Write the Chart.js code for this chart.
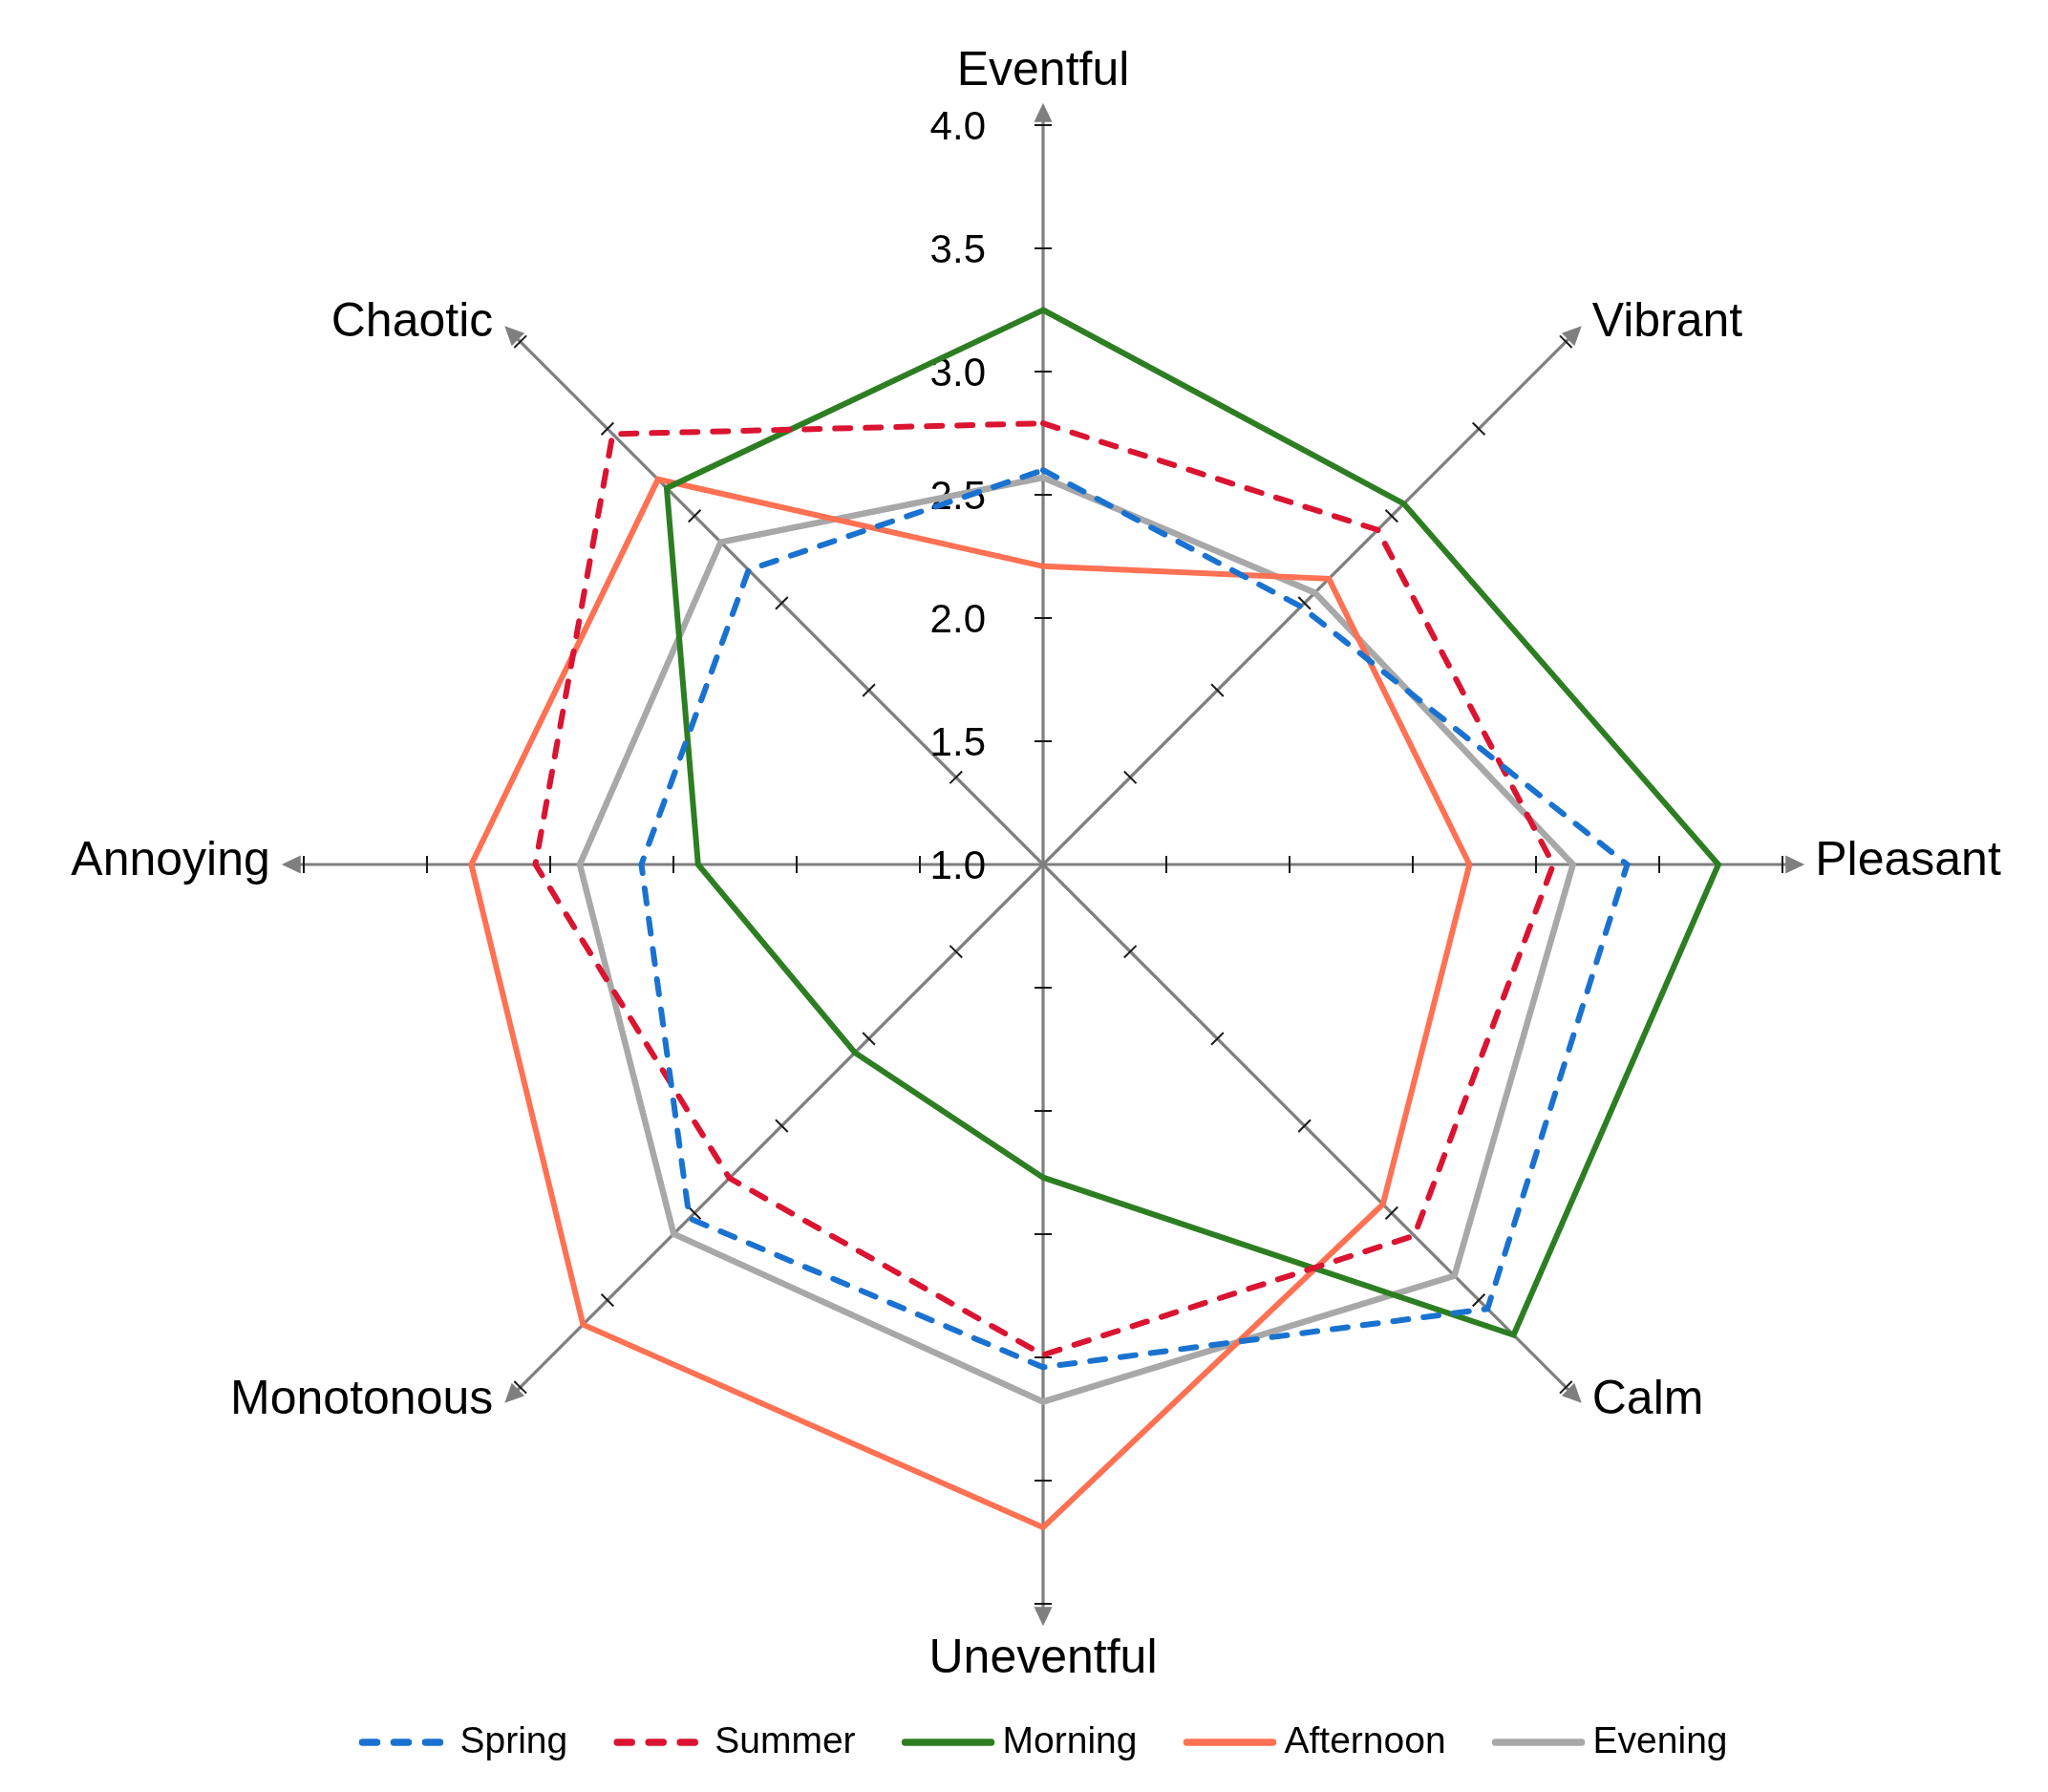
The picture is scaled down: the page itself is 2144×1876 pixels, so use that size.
<!DOCTYPE html>
<html lang="en">
<head>
<meta charset="UTF-8">
<title>Soundscape radar</title>
<script src="https://cdn.jsdelivr.net/npm/chart.js"></script>
<style>
  html, body { margin: 0; padding: 0; background: #fff; }
  #wrap { width: 2144px; height: 1876px; }
</style>
</head>
<body>
<div id="wrap"><canvas id="myChart"></canvas></div>
<script>
// axes go clockwise from the top
const axes = ['Eventful', 'Vibrant', 'Pleasant', 'Calm', 'Uneventful', 'Monotonous', 'Annoying', 'Chaotic'];

const spring    = [2.60, 2.48, 3.37, 3.55, 3.04, 3.03, 2.63, 2.69];
const summer    = [2.79, 2.92, 3.07, 3.13, 2.99, 2.80, 3.06, 3.47];
const morning   = [3.25, 3.07, 3.74, 3.70, 2.27, 2.08, 2.40, 3.16];
const afternoon = [2.21, 2.64, 2.73, 2.95, 3.69, 3.64, 3.32, 3.21];
const evening   = [2.57, 2.56, 3.15, 3.36, 3.18, 3.12, 2.88, 2.85];

const tickValues = [1.0, 1.5, 2.0, 2.5, 3.0, 3.5, 4.0];

const FONT = '"Liberation Sans", Arial, sans-serif';

// draws the arrowed axes, the small tick marks and the tick labels
const axisPlugin = {
  id: 'axisArrows',
  beforeDatasetsDraw(chart) {
    const ctx = chart.ctx;
    const scale = chart.scales.r;
    ctx.save();
    axes.forEach((name, i) => {
      const c = scale.getPointPositionForValue(i, 1);
      const tip = scale.getPointPositionForValue(i, 4.09);
      const dx = Math.cos(tip.angle), dy = Math.sin(tip.angle);
      // axis line
      ctx.strokeStyle = '#7f7f7f';
      ctx.lineWidth = 3.2;
      ctx.setLineDash([]);
      ctx.beginPath();
      ctx.moveTo(c.x, c.y);
      ctx.lineTo(tip.x - dx * 10, tip.y - dy * 10);
      ctx.stroke();
      // arrow head
      ctx.fillStyle = '#7f7f7f';
      ctx.beginPath();
      ctx.moveTo(tip.x, tip.y);
      ctx.lineTo(tip.x - dx * 20 - dy * 9.5, tip.y - dy * 20 + dx * 9.5);
      ctx.lineTo(tip.x - dx * 20 + dy * 9.5, tip.y - dy * 20 - dx * 9.5);
      ctx.closePath();
      ctx.fill();
      // tick marks
      ctx.strokeStyle = '#1a1a1a';
      ctx.lineWidth = 2;
      tickValues.forEach(v => {
        if (v <= scale.min) return;
        const p = scale.getPointPositionForValue(i, v);
        ctx.beginPath();
        ctx.moveTo(p.x - dy * 9, p.y + dx * 9);
        ctx.lineTo(p.x + dy * 9, p.y - dx * 9);
        ctx.stroke();
      });
    });
    // tick labels, left of the vertical axis
    ctx.fillStyle = '#000';
    ctx.font = '42px ' + FONT;
    ctx.textAlign = 'right';
    ctx.textBaseline = 'alphabetic';
    tickValues.forEach(v => {
      const p = scale.getPointPositionForValue(0, v);
      ctx.fillText(v.toFixed(1), p.x - 60, p.y + 15);
    });
    ctx.restore();
  },
  afterDraw(chart) {
    const ctx = chart.ctx;
    const scale = chart.scales.r;
    ctx.save();
    // axis names at the arrow tips
    ctx.fillStyle = '#000';
    ctx.font = '50px ' + FONT;
    axes.forEach((name, i) => {
      const tip = scale.getPointPositionForValue(i, 4.09);
      const cx = Math.cos(tip.angle);
      const cy = Math.sin(tip.angle);
      if (Math.abs(cx) < 0.1) {
        ctx.textAlign = 'center';
        ctx.textBaseline = 'alphabetic';
        ctx.fillText(name, tip.x, cy < 0 ? tip.y - 19 : tip.y + 49);
      } else {
        ctx.textAlign = cx > 0 ? 'left' : 'right';
        ctx.textBaseline = 'middle';
        ctx.fillText(name, tip.x + (cx > 0 ? 11 : -12), tip.y - 3);
      }
    });

    // legend along the bottom
    const textOffset = 106, spacing = 48;
    ctx.font = '39px ' + FONT;
    const items = chart.data.datasets.map(ds => ({ ds, w: ctx.measureText(ds.label).width }));
    const total = items.reduce((s, it) => s + textOffset + it.w, 0) + spacing * (items.length - 1);
    let x = scale.xCenter - total / 2;
    const y = chart.chartArea.bottom + 145;
    items.forEach(it => {
      const dashed = !!it.ds.borderDash;
      ctx.strokeStyle = it.ds.borderColor;
      ctx.lineWidth = 7.5;
      ctx.lineCap = 'round';
      ctx.setLineDash(dashed ? [15, 18] : []);
      ctx.beginPath();
      ctx.moveTo(x + 4, y);
      ctx.lineTo(x + (dashed ? 88 : 94), y);
      ctx.stroke();
      ctx.setLineDash([]);
      ctx.fillStyle = '#000';
      ctx.textAlign = 'left';
      ctx.textBaseline = 'middle';
      ctx.fillText(it.ds.label, x + textOffset, y);
      x += textOffset + it.w + spacing;
    });
    ctx.restore();
  }
};

const dash = [16, 16];

function series(label, data, color, dashed, width) {
  return {
    label: label,
    data: data,
    borderColor: color,
    backgroundColor: 'transparent',
    borderWidth: width,
    borderDash: dashed ? dash : undefined,
    borderCapStyle: dashed ? 'round' : 'butt',
    borderJoinStyle: 'miter',
    fill: false,
    pointRadius: 0,
    pointHoverRadius: 0,
    tension: 0
  };
}

const ctx = document.getElementById('myChart');

new Chart(ctx, {
  type: 'radar',
  data: {
    labels: axes,
    datasets: [
      series('Spring', spring, '#1a72d0', true, 6),
      series('Summer', summer, '#da1431', true, 6),
      series('Morning', morning, '#2d7e22', false, 6),
      series('Afternoon', afternoon, '#ff7153', false, 6),
      series('Evening', evening, '#a8a8a8', false, 6.5)
    ]
  },
  options: {
    responsive: true,
    maintainAspectRatio: false,
    animation: false,
    events: [],
    layout: {
      padding: { left: 318, right: 278, top: 131, bottom: 197 }
    },
    plugins: {
      legend: { display: false },
      tooltip: { enabled: false }
    },
    scales: {
      r: {
        min: 1,
        max: 4,
        ticks: { display: false, stepSize: 0.5 },
        grid: { display: false },
        angleLines: { display: false },
        pointLabels: { display: false }
      }
    }
  },
  plugins: [axisPlugin]
});
</script>
</body>
</html>
